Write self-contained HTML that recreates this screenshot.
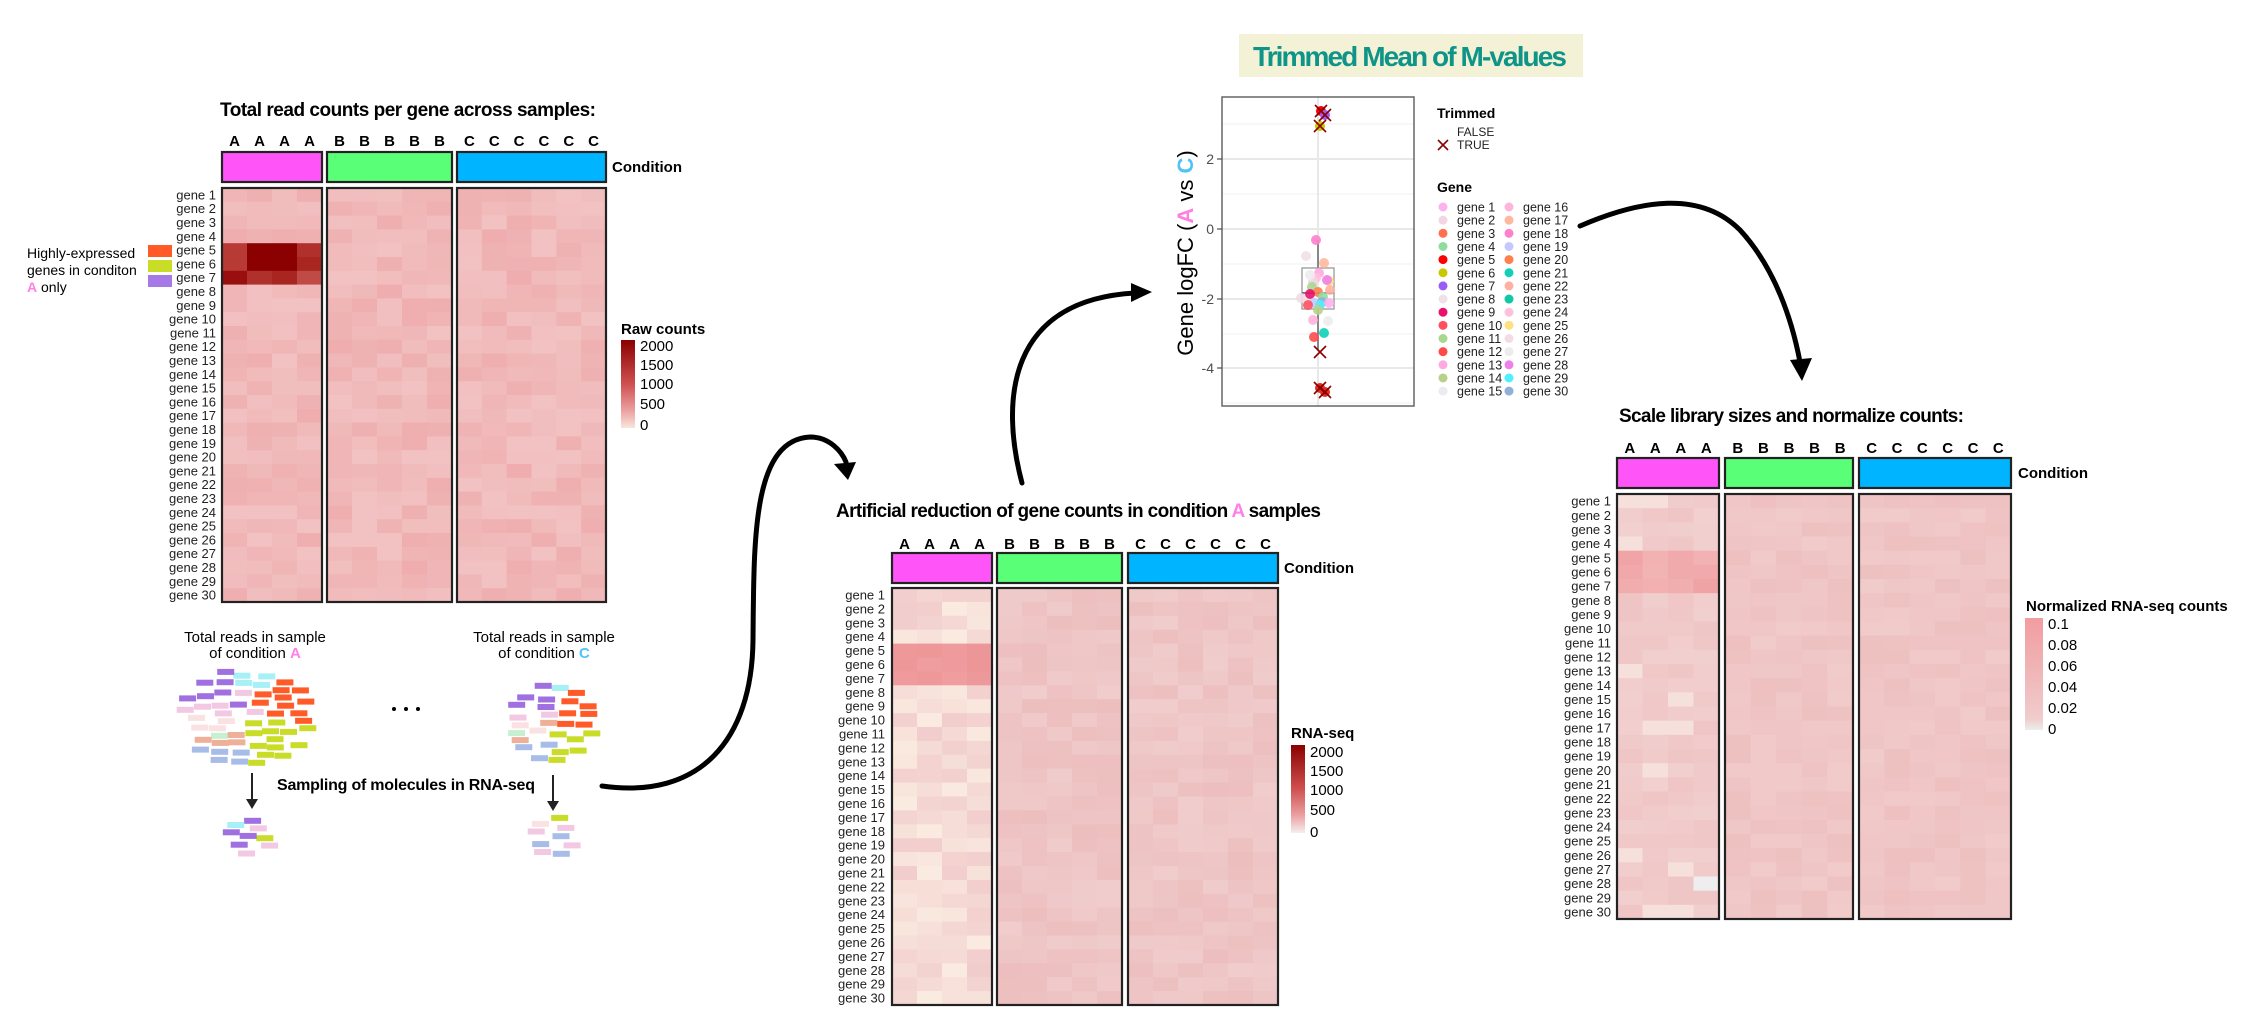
<!DOCTYPE html>
<html><head><meta charset="utf-8">
<style>
html,body{margin:0;padding:0;background:#fff;}
svg{display:block;}
text{font-family:"Liberation Sans",Arial,sans-serif;}
</style></head>
<body>
<svg id="s" width="2250" height="1030" viewBox="0 0 2250 1030" xmlns="http://www.w3.org/2000/svg">
<defs>
<linearGradient id="g1" x1="0" y1="0" x2="0" y2="1">
<stop offset="0" stop-color="#8b0000"/><stop offset="0.5" stop-color="#cf5050"/><stop offset="0.8" stop-color="#eba0a0"/><stop offset="1" stop-color="#f8e6dc"/></linearGradient>
<linearGradient id="g2" x1="0" y1="0" x2="0" y2="1">
<stop offset="0" stop-color="#8b0000"/><stop offset="0.5" stop-color="#cf5050"/><stop offset="0.8" stop-color="#eba0a0"/><stop offset="1" stop-color="#f6eeee"/></linearGradient>
<linearGradient id="g3" x1="0" y1="0" x2="0" y2="1">
<stop offset="0" stop-color="#f19ca0"/><stop offset="0.9" stop-color="#f0cccc"/><stop offset="1" stop-color="#eeeeee"/></linearGradient>
</defs>
<g id="content"></g>

<text x="220" y="116" font-size="19" font-weight="bold" textLength="376">Total read counts per gene across samples:</text>
<text x="836" y="517" font-size="19" font-weight="bold" textLength="485">Artificial reduction of gene counts in condition <tspan fill="#ff80e8">A</tspan> samples</text>
<text x="1619" y="422" font-size="19" font-weight="bold" textLength="345">Scale library sizes and normalize counts:</text>

<rect x="1239" y="34" width="344" height="43" fill="#f4f2d6"/>
<text x="1253" y="66" font-size="28" font-weight="bold" fill="#0e9488" textLength="314">Trimmed Mean of M-values</text>

<text x="27" y="258" font-size="14">Highly-expressed</text>
<text x="27" y="275" font-size="14">genes in conditon</text>
<text x="27" y="292" font-size="14"><tspan fill="#ff80e8" font-weight="bold">A</tspan> only</text>
<rect x="148" y="245" width="24" height="12" fill="#ff5a28"/>
<rect x="148" y="260" width="24" height="12" fill="#c8dc28"/>
<rect x="148" y="275" width="24" height="12" fill="#a57ae6"/>

<text x="621" y="334" font-size="15" font-weight="bold">Raw counts</text>
<rect x="621" y="340" width="14" height="88" fill="url(#g1)"/>
<g font-size="15" fill="#000">
<text x="640" y="351">2000</text><text x="640" y="370">1500</text><text x="640" y="389">1000</text><text x="640" y="409">500</text><text x="640" y="430">0</text></g>

<text x="1291" y="738" font-size="15" font-weight="bold">RNA-seq</text>
<rect x="1291" y="745" width="14" height="88" fill="url(#g2)"/>
<g font-size="15">
<text x="1310" y="757">2000</text><text x="1310" y="776">1500</text><text x="1310" y="795">1000</text><text x="1310" y="815">500</text><text x="1310" y="837">0</text></g>

<text x="2026" y="611" font-size="15" font-weight="bold">Normalized RNA-seq counts</text>
<rect x="2025" y="618" width="18" height="112" fill="url(#g3)"/>
<g font-size="15">
<text x="2048" y="629">0.1</text><text x="2048" y="650">0.08</text><text x="2048" y="671">0.06</text><text x="2048" y="692">0.04</text><text x="2048" y="713">0.02</text><text x="2048" y="734">0</text></g>

<text x="255" y="642" font-size="15" text-anchor="middle">Total reads in sample</text>
<text x="255" y="658" font-size="15" text-anchor="middle">of condition <tspan fill="#ff80e8" font-weight="bold">A</tspan></text>
<text x="544" y="642" font-size="15" text-anchor="middle">Total reads in sample</text>
<text x="544" y="658" font-size="15" text-anchor="middle">of condition <tspan fill="#4fc3f7" font-weight="bold">C</tspan></text>
<text x="277" y="790" font-size="16" font-weight="bold" textLength="258">Sampling of molecules in RNA-seq</text>
<circle cx="394" cy="709" r="2" fill="#000"/><circle cx="406" cy="709" r="2" fill="#000"/><circle cx="418" cy="709" r="2" fill="#000"/>
<line x1="252" y1="773" x2="252" y2="800" stroke="#222" stroke-width="2"/>
<polygon points="246,799 258,799 252,809" fill="#222"/>
<line x1="553" y1="775" x2="553" y2="802" stroke="#222" stroke-width="2"/>
<polygon points="547,801 559,801 553,811" fill="#222"/>

<g fill="none" stroke="#000" stroke-width="5" stroke-linecap="round">
<path d="M602,786 C 700,800 752,740 753,640 C 754,540 752,440 810,437 C 830,437 842,452 846,462"/>
<path d="M1022,483 C 1000,400 1008,300 1135,293"/>
<path d="M1580,226 C 1640,200 1700,190 1740,230 C 1775,268 1792,320 1800,362"/>
</g>
<polygon points="834,464 856,462 848,480" fill="#000"/>
<polygon points="1131,283 1152,292 1131,302" fill="#000"/>
<polygon points="1790,360 1812,358 1802,381" fill="#000"/>

<g id="tmm">
<rect x="1222" y="97" width="192" height="309" fill="#fff"/>
<g stroke="#f0f0f0" stroke-width="1">
<line x1="1222" y1="124" x2="1414" y2="124"/><line x1="1222" y1="194" x2="1414" y2="194"/><line x1="1222" y1="264" x2="1414" y2="264"/><line x1="1222" y1="334" x2="1414" y2="334"/><line x1="1222" y1="403" x2="1414" y2="403"/></g>
<g stroke="#e8e8e8" stroke-width="2">
<line x1="1222" y1="159" x2="1414" y2="159"/><line x1="1222" y1="229" x2="1414" y2="229"/><line x1="1222" y1="299" x2="1414" y2="299"/><line x1="1222" y1="368" x2="1414" y2="368"/>
<line x1="1318" y1="97" x2="1318" y2="406"/></g>
<line x1="1318" y1="240" x2="1318" y2="268" stroke="#555" stroke-width="1.3"/>
<line x1="1318" y1="309" x2="1318" y2="350" stroke="#555" stroke-width="1.3"/>
<rect x="1302" y="268" width="32" height="41" fill="none" stroke="#999" stroke-width="1.3"/>
<line x1="1302" y1="293" x2="1334" y2="293" stroke="#555" stroke-width="1.5"/>
<g id="pts"></g>
<rect x="1222" y="97" width="192" height="309" fill="none" stroke="#666" stroke-width="1.5"/>
<g font-size="14" fill="#4d4d4d" text-anchor="end">
<text x="1214" y="164">2</text><text x="1214" y="234">0</text><text x="1214" y="304">-2</text><text x="1214" y="373">-4</text></g>
<g stroke="#4d4d4d" stroke-width="1.2"><line x1="1217" y1="159" x2="1222" y2="159"/><line x1="1217" y1="229" x2="1222" y2="229"/><line x1="1217" y1="299" x2="1222" y2="299"/><line x1="1217" y1="368" x2="1222" y2="368"/></g>
<text transform="translate(1193,253) rotate(-90)" font-size="22" text-anchor="middle">Gene logFC (<tspan fill="#ff80e0" font-weight="bold">A</tspan> vs <tspan fill="#4fc3f7" font-weight="bold">C</tspan>)</text>
<text x="1437" y="118" font-size="14" font-weight="bold">Trimmed</text>
<text x="1457" y="136" font-size="12" fill="#222">FALSE</text>
<text x="1457" y="149" font-size="12" fill="#222">TRUE</text>
<path d="M1438,140 L1448,150 M1448,140 L1438,150" stroke="#8b0000" stroke-width="1.6"/>
<text x="1437" y="192" font-size="14" font-weight="bold">Gene</text>
<g id="leg"></g>
</g>
</svg>
<script>
(function(){
var NS="http://www.w3.org/2000/svg";
var C=document.getElementById('content');
var seed=12345;function R(){seed=(seed*1103515245+12345)%2147483648;return seed/2147483648;}
function el(t,a,p){var e=document.createElementNS(NS,t);for(var k in a)e.setAttribute(k,a[k]);(p||C).appendChild(e);return e;}
function mix(c1,c2,t){var a=parseInt(c1.slice(1),16),b=parseInt(c2.slice(1),16);
var r=Math.round(((a>>16)&255)*(1-t)+((b>>16)&255)*t),g=Math.round(((a>>8)&255)*(1-t)+((b>>8)&255)*t),bl=Math.round((a&255)*(1-t)+(b&255)*t);
return "rgb("+r+","+g+","+bl+")";}
function heat(groups,y0,y1,ybox0,ybox1,labX,letY,condX,colorFn){
 var rh=(y1-y0)/30;
 var letters=['A','B','C'],cc=['#ff55f8','#5aff78','#00b4ff'];
 groups.forEach(function(g,gi){
  var cw=(g[1]-g[0])/g[2];
  for(var c=0;c<g[2];c++){
   for(var r=0;r<30;r++){el('rect',{x:(g[0]+c*cw).toFixed(2),y:(y0+r*rh).toFixed(2),width:(cw+0.6).toFixed(2),height:(rh+0.6).toFixed(2),fill:colorFn(gi,c,r)});}
   var t=el('text',{x:(g[0]+c*cw+cw/2).toFixed(1),y:letY,'font-size':15,'font-weight':'bold','text-anchor':'middle'});t.textContent=letters[gi];
  }
  el('rect',{x:g[0],y:y0,width:g[1]-g[0],height:y1-y0,fill:'none',stroke:'#222','stroke-width':2.2});
  el('rect',{x:g[0],y:ybox0,width:g[1]-g[0],height:ybox1-ybox0,fill:cc[gi],stroke:'#222','stroke-width':2.2});
 });
 var t=el('text',{x:condX,y:(ybox0+ybox1)/2+5,'font-size':15,'font-weight':'bold'});t.textContent='Condition';
 for(var r=0;r<30;r++){var tt=el('text',{x:labX,y:(y0+r*rh+rh/2+4.5).toFixed(1),'font-size':13,fill:'#222','text-anchor':'end'});tt.textContent='gene '+(r+1);}
}
var dark={4:['#b83a35','#8b0000','#8b0000','#b0302c'],5:['#b83a35','#8b0000','#8b0000','#a82520'],6:['#990f0f','#b0302c','#a82520','#c04a45']};
heat([[222,322,4],[327,452,5],[457,606,6]],188,602,152,182,216,146,612,function(g,c,r){
 if(g==0&&dark[r])return dark[r][c];
 return mix('#f2c2c2','#eda4a6',Math.pow(R(),1.3)*0.7);});
heat([[892,992,4],[997,1122,5],[1128,1278,6]],588,1005,553,583,885,549,1284,function(g,c,r){
 if(g==0){if(r>=4&&r<=6)return mix('#f09ea0','#ec9496',R());return mix('#faebe0','#f1cccc',R());}
 return mix('#f0cccc','#ecbaba',R()*0.8);});
heat([[1617,1719,4],[1725,1853,5],[1859,2011,6]],494,919,458,488,1611,453,2018,function(g,c,r){
 if(g==0){if(r>=4&&r<=6)return mix('#f2b4b4','#f0a2a4',R());
  if(r==27&&c==3)return '#eeeeee';
  var v=R();if(v<0.1)return '#f6e0dc';return mix('#f2d0d0','#efc4c4',R());}
 return mix('#f1caca','#eec0c0',R());});
var cols={pu:'#a070e0',cy:'#a6f0f6',or:'#ff5a28',yg:'#c8dc28',pk:'#f2c8e2',vl:'#fbe2e2',sa:'#eeb098',lg:'#c6f0d0',lb:'#a8bce8'};
function pick(u,v){
 if(v<0.38&&u<0.45)return cols.pu;
 if(v<0.22&&u<0.68)return cols.cy;
 if(u>=0.6&&v<0.55)return cols.or;
 if(u>=0.52&&v>=0.52)return cols.yg;
 if(v<0.5)return cols.pk;
 if(v<0.62&&u<0.35)return cols.vl;
 if(v<0.72&&u<0.3)return cols.lg;
 if(v>=0.78&&u<0.5)return cols.lb;
 return cols.sa;}
function cluster(x0,y0,w,h,n,forced){
 var placed=[];var tries=0;
 while(placed.length<n&&tries<8000){tries++;
  var u=R(),v=R();if((u-0.5)*(u-0.5)+(v-0.5)*(v-0.5)>0.25)continue;
  var x=x0+u*(w-17),y=y0+v*(h-6),ok=true;
  for(var j=0;j<placed.length;j++){var p=placed[j];if(Math.abs(p[0]-x)<16&&Math.abs(p[1]-y)<7){ok=false;break;}}
  if(!ok)continue;placed.push([x,y]);
  var col=forced?forced[Math.floor(R()*forced.length)]:pick(u,v);
  el('rect',{x:x.toFixed(1),y:y.toFixed(1),width:17,height:6,fill:col});}
}
cluster(174,666,146,102,95);
cluster(503,678,101,86,60);
cluster(222,814,60,44,16,[cols.yg,cols.pu,cols.or,cols.pk,cols.lb,cols.cy,cols.yg,cols.pu]);
cluster(525,814,58,46,16,[cols.pu,cols.or,cols.cy,cols.sa,cols.pk,cols.yg,cols.lb,cols.vl,cols.vl]);
var gc=['#ffb0ee','#f2d6e4','#ff6f50','#90dca0','#ff0000','#c8c800','#9b5cf6','#f0e0e8','#e8106a','#ff5060','#a8d890','#ff4a4a','#ffaae0','#b8d08a','#ececf0','#ffb4dc','#ffb8a0','#ff80cc','#c4c8ff','#ff7f50','#10d0b8','#ffb0a0','#10c8a8','#ffc0dc','#ffe080','#f2dce6','#ececec','#f080e8','#50f0ff','#90b0d8'];
var P=document.getElementById('pts');
var pts=[[1306,256,7],[1324,263,16],[1316,240,17],[1319,273,12],[1316,278,23],[1313,282,1],[1329,281,24],[1327,280,27],[1312,287,10],[1318,292,19],[1310,294,8],[1323,297,3],[1314,303,18],[1322,302,29],[1320,305,28],[1308,305,9],[1329,303,0],[1318,310,13],[1313,320,15],[1328,321,26],[1324,333,20],[1314,337,11],[1301,298,25],[1330,290,21],[1310,275,14]];
pts.forEach(function(p){el('circle',{cx:p[0],cy:p[1],r:5,fill:gc[p[2]],opacity:0.9},P);});
el('circle',{cx:1321,cy:111,r:5,fill:'#ff0000'},P);el('circle',{cx:1325,cy:115,r:5,fill:'#9b5cf6'},P);el('circle',{cx:1320,cy:126,r:5,fill:'#c8c800'},P);
el('circle',{cx:1320,cy:388,r:5,fill:'#e03020'},P);el('circle',{cx:1325,cy:392,r:5,fill:'#e03020'},P);
[[1321,111],[1325,115],[1320,126],[1320,352],[1320,388],[1325,392]].forEach(function(p){
 el('path',{d:'M'+(p[0]-6)+','+(p[1]-6)+' L'+(p[0]+6)+','+(p[1]+6)+' M'+(p[0]+6)+','+(p[1]-6)+' L'+(p[0]-6)+','+(p[1]+6),stroke:'#8b0000','stroke-width':1.6,fill:'none'},P);});
var L=document.getElementById('leg');
for(var i=0;i<30;i++){var col=i<15?0:1,row=i%15;var y=207+row*13.15;
 el('circle',{cx:col?1509:1443,cy:y,r:4.5,fill:gc[i]},L);
 var t=el('text',{x:col?1523:1457,y:y+4.5,'font-size':12.5,fill:'#222'},L);t.textContent='gene '+(i+1);}
})();
</script>
</body></html>
